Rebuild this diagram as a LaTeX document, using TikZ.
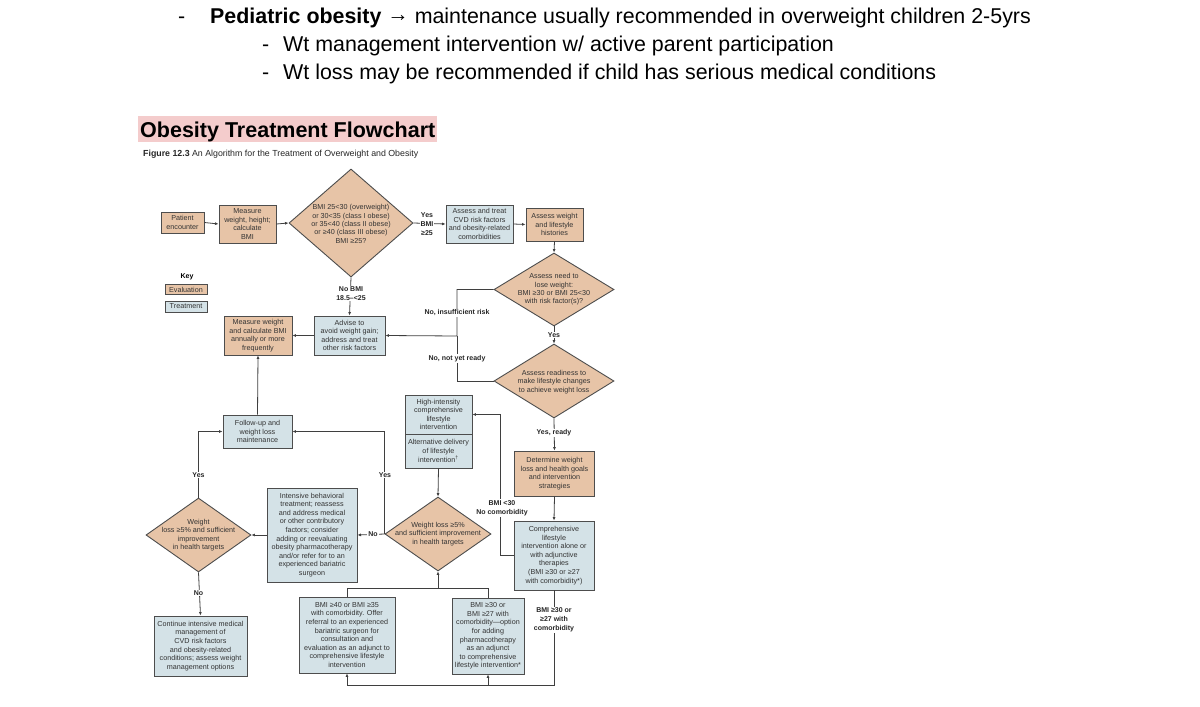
\documentclass[tikz,border=0pt]{standalone}
\usepackage{fontspec}
\setmainfont{Liberation Sans}
\usetikzlibrary{shapes.geometric,arrows.meta}
\definecolor{evalfill}{HTML}{E7C4A7}
\definecolor{treatfill}{HTML}{D4E2E7}
\definecolor{bord}{HTML}{4D4D4D}
\definecolor{lncol}{HTML}{3F3F3F}
\definecolor{txtcol}{HTML}{333333}
\definecolor{hlcol}{HTML}{F4CCCC}
\begin{document}
\begin{tikzpicture}[x=1pt,y=-1pt,
 box/.style={draw=bord,line width=0.9pt,align=center,inner sep=0pt,font=\fontsize{7.2}{8.6}\selectfont,text=txtcol},
 evalbox/.style={box,fill=evalfill},
 treatbox/.style={box,fill=treatfill},
 dia/.style={diamond,draw=bord,line width=0.9pt,fill=evalfill,inner sep=0pt},
 dtext/.style={align=center,font=\fontsize{7.2}{8.4}\selectfont,text=txtcol,inner sep=0pt},
 lbl/.style={align=center,font=\bfseries\fontsize{7}{9}\selectfont,text=black!85,inner sep=1pt,fill=white},
 conn/.style={draw=lncol,line width=0.8pt,-{Latex[length=3.5pt,width=3pt]}},
 plainln/.style={draw=lncol,line width=0.8pt},
 head/.style={anchor=base west,inner sep=0pt,font=\fontsize{21.4}{25}\selectfont},
]
\useasboundingbox (0,0) rectangle (1200,707);
\fill[white] (0,0) rectangle (1200,707);

% header bullets
\node[head] (b1) at (178,23) {-};
\node[head] (h1) at (210,23) {\textbf{Pediatric obesity} \raisebox{1.5pt}{→} maintenance usually recommended in overweight children 2-5yrs};
\node[head] (b2) at (262,51) {-};
\node[head] (h2) at (283,51) {Wt management intervention w/ active parent participation};
\node[head] (b3) at (262,79) {-};
\node[head] (h3) at (283,79) {Wt loss may be recommended if child has serious medical conditions};

% title
\fill[hlcol] (138,116) rectangle (437,142);
\node[anchor=base west,inner sep=0pt,font=\bfseries\fontsize{21.5}{25}\selectfont] (title) at (140,137.5) {Obesity Treatment Flowchart};
\node[anchor=west,inner sep=0pt,font=\fontsize{8.8}{10}\selectfont,text=black!85] (cap) at (143,154) {\textbf{Figure 12.3} An Algorithm for the Treatment of Overweight and Obesity};

% key
\node[font=\bfseries\fontsize{7}{8}\selectfont,inner sep=0pt] (key) at (187,277) {Key};
\node[evalbox,minimum width=42,minimum height=10.5] (kev) at (186,289.5) {Evaluation};
\node[treatbox,minimum width=42,minimum height=11] (ktr) at (186,306.5) {Treatment};

% boxes
\node[evalbox,minimum width=43,minimum height=21] (pe) at (182.5,222.5) {Patient\\encounter};
\node[evalbox,minimum width=57,minimum height=38] (mw) at (247.5,224) {Measure\\weight, height;\\calculate\\BMI};
\node[dia,minimum width=124,minimum height=108] (d1) at (351,223) {};
\node[dtext] (t1) at (351,224) {BMI 25<30 (overweight)\\or 30<35 (class I obese)\\or 35<40 (class II obese)\\or ≥40 (class III obese)\\BMI ≥25?};
\node[treatbox,minimum width=67,minimum height=38] (cvd) at (479.5,224) {Assess and treat\\CVD risk factors\\and obesity-related\\comorbidities};
\node[evalbox,minimum width=57,minimum height=33] (awl) at (554.5,224.5) {Assess weight\\and lifestyle\\histories};
\node[dia,minimum width=120,minimum height=73] (d2) at (554,289.5) {};
\node[dtext] (t2) at (554,289.5) {Assess need to\\lose weight:\\BMI ≥30 or BMI 25<30\\with risk factor(s)?};
\node[dia,minimum width=120,minimum height=74] (d3) at (554,381) {};
\node[dtext] (t3) at (554,382) {Assess readiness to\\make lifestyle changes\\to achieve weight loss};
\node[evalbox,minimum width=80,minimum height=45] (det) at (554.5,473.5) {Determine weight\\loss and health goals\\and intervention\\strategies};
\node[treatbox,minimum width=80,minimum height=69] (comp) at (554,555.5) {Comprehensive\\lifestyle\\intervention alone or\\with adjunctive\\therapies\\(BMI ≥30 or ≥27\\with comorbidity*)};
\node[evalbox,minimum width=68,minimum height=39] (mwa) at (258,335.5) {Measure weight\\and calculate BMI\\annually or more\\frequently};
\node[treatbox,minimum width=71,minimum height=39] (adv) at (349.5,335.5) {Advise to\\avoid weight gain;\\address and treat\\other risk factors};
\node[treatbox,minimum width=69,minimum height=33] (fu) at (257.5,431.5) {Follow-up and\\weight loss\\maintenance};
\node[treatbox,minimum width=67,minimum height=39] (hi1) at (438.5,414.5) {High-intensity\\comprehensive\\lifestyle\\intervention};
\node[treatbox,minimum width=67,minimum height=34] (hi2) at (438.5,451) {Alternative delivery\\of lifestyle\\intervention\textsuperscript{†}};
\node[dia,minimum width=106,minimum height=74] (d4) at (438,534) {};
\node[dtext] (t4) at (438,534) {Weight loss ≥5\%\\and sufficient improvement\\in health targets};
\node[treatbox,minimum width=90,minimum height=94] (ibt) at (312,535) {Intensive behavioral\\treatment; reassess\\and address medical\\or other contributory\\factors; consider\\adding or reevaluating\\obesity pharmacotherapy\\and/or refer for to an\\experienced bariatric\\surgeon};
\node[dia,minimum width=105,minimum height=74] (d5) at (198.5,535) {};
\node[dtext] (t5) at (198.5,535) {Weight\\loss ≥5\% and sufficient\\improvement\\in health targets};
\node[treatbox,minimum width=93,minimum height=60] (cont) at (200.5,646) {Continue intensive medical\\management of\\CVD risk factors\\and obesity-related\\conditions; assess weight\\management options};
\node[treatbox,minimum width=96,minimum height=76] (b40) at (347,635) {BMI ≥40 or BMI ≥35\\with comorbidity. Offer\\referral to an experienced\\bariatric surgeon for\\consultation and\\evaluation as an adjunct to\\comprehensive lifestyle\\intervention};
\node[treatbox,minimum width=72,minimum height=76] (b30) at (488,636) {BMI ≥30 or\\BMI ≥27 with\\comorbidity—option\\for adding\\pharmacotherapy\\as an adjunct\\to comprehensive\\lifestyle intervention*};

% helper coordinates
\coordinate (j1) at (457,336);
\coordinate (cx) at (500,0);
\coordinate (bot) at (0,685);
\coordinate (top) at (0,588);

% connectors
\draw[conn] (pe.east) -- (mw.west);
\draw[conn] (mw.east) -- (d1.west);
\draw[conn] (d1.east) -- (cvd.west);
\draw[conn] (cvd.east) -- (awl.west);
\draw[conn] (awl.south) -- (d2.north);
\draw[conn] (d2.south) -- (d3.north);
\draw[conn] (d3.south) -- (det.north);
\draw[conn] (det.south) -- (comp.north);
\draw[conn] (d1.south) -- (adv.north);
\draw[conn] (d2.west) -| (j1) -- (adv.east);
\draw[plainln] (d3.west) -| (j1);
\draw[conn] (adv.west) -- (mwa.east);
\draw[conn] (fu.north) -- (mwa.south);
\draw[conn] (d5.north) |- (fu.west);
\draw[conn] (d4.west) |- (fu.east);
\draw[conn] (d4.west) -- (ibt.east);
\draw[conn] (ibt.west) -- (d5.east);
\draw[conn] (d5.south) -- (cont.north);
\draw[conn] (hi2.south) -- (d4.north);
\draw[conn] (comp.west) -- (comp.west -| cx) |- (hi1.east);
\draw[plainln] (comp.south) -- (comp.south |- bot) -- (b40.south |- bot);
\draw[conn] (b40.south |- bot) -- (b40.south);
\draw[conn] (b30.south |- bot) -- (b30.south);
\draw[plainln] (b40.north) -- (b40.north |- top) -- (b30.north |- top) -- (b30.north);
\draw[conn] (d4.south |- top) -- (d4.south);

% labels
\node[lbl] (l1) at (427,224) {Yes\\BMI\\≥25};
\node[lbl] (l2) at (351,293.5) {No BMI\\18.5–<25};
\node[lbl] (l3) at (554,335) {Yes};
\node[lbl] (l4) at (457,313) {No, insufficient risk};
\node[lbl] (l5) at (457,358.5) {No, not yet ready};
\node[lbl] (l6) at (554,433) {Yes, ready};
\node[lbl] (l7) at (502,508) {BMI <30\\No comorbidity};
\node[lbl] (l8) at (554,620) {BMI ≥30 or\\≥27 with\\comorbidity};
\node[lbl] (l9) at (373,534) {No};
\node[lbl] (l10) at (385,475) {Yes};
\node[lbl] (l11) at (198.5,475) {Yes};
\node[lbl] (l12) at (198.5,593) {No};
\end{tikzpicture}
\end{document}
